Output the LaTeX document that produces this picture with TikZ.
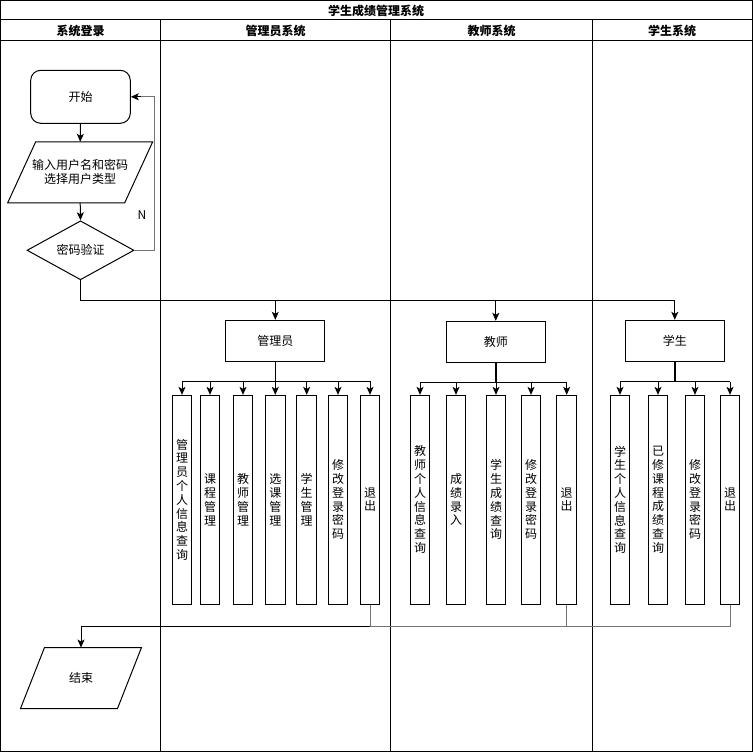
\documentclass[tikz,border=0pt]{standalone}
\usepackage{fontspec}
\setmainfont{Noto Sans CJK SC}
\usetikzlibrary{shapes.geometric,arrows.meta,calc}
\begin{document}
\begin{tikzpicture}[x=1pt,y=-1pt,line width=1pt,
  arr/.style={-{Stealth[length=8pt,width=7pt,inset=2pt]}},
  txt/.style={font=\fontsize{12}{14}\selectfont},
  hdr/.style={font=\bfseries\fontsize{12}{14}\selectfont},
  box/.style={draw,minimum width=99pt,minimum height=41pt,inner sep=0pt,txt},
  vbox/.style={draw,minimum width=19.5pt,minimum height=208.7pt,inner sep=0pt,align=center,font=\fontsize{12}{13.8}\selectfont},
  ghost/.style={inner sep=0pt,align=center,txt},
  exitline/.style={draw=black!55}
]
\useasboundingbox (0,0) rectangle (753,752);
% frame and lanes
\draw (0.5,0.5) rectangle (752,751.5);
\draw (0.5,20) -- (752,20);
\draw (0.5,40.5) -- (752,40.5);
\draw (160.5,20) -- (160.5,751.5);
\draw (390.5,20) -- (390.5,751.5);
\draw (592.5,20) -- (592.5,751.5);
\node[hdr] (title) at (376,10.5) {学生成绩管理系统};
\node[hdr] (h1) at (80.5,30.5) {系统登录};
\node[hdr] (h2) at (275.5,30.5) {管理员系统};
\node[hdr] (h3) at (491.5,30.5) {教师系统};
\node[hdr] (h4) at (672,30.5) {学生系统};

% login lane
\node[draw,rounded corners=10pt,minimum width=99.6pt,minimum height=53pt,inner sep=0pt,txt] (start) at (80.5,96.8) {开始};
\node[ghost,minimum width=116pt,minimum height=60pt] (inp) at (80.2,172.3) {输入用户名和密码\\选择用户类型};
\draw ($(inp.south west)+(-14,0)$) -- ($(inp.north west)+(14,0)$) -- ($(inp.north east)+(14,0)$) -- ($(inp.south east)+(-14,0)$) -- cycle;
\node[diamond,draw,minimum width=107pt,minimum height=59pt,inner sep=0pt,aspect=1.8,txt] (dia) at (80.5,250.3) {密码验证};
\node[txt] (nlab) at (142,215) {N};
\node[ghost,minimum width=96pt,minimum height=60pt] (endn) at (81,678) {结束};
\draw ($(endn.south west)+(-12,0)$) -- ($(endn.north west)+(12,0)$) -- ($(endn.north east)+(12,0)$) -- ($(endn.south east)+(-12,0)$) -- cycle;

\draw[arr] (start.south) -- (inp.north);
\draw[arr] (inp.south) -- (dia.north);
\coordinate (loopx) at (154,0);
\draw[exitline] (dia.east) -- (dia.east -| loopx) -- (start.east -| loopx) -- ($(start.east)+(8,0)$);
\draw[arr] ($(start.east)+(10,0)$) -- (start.east);

% role boxes
\node[box] (admin) at (275.3,340.8) {管理员};
\node[box] (teacher) at (495.8,341.8) {教师};
\node[box] (student) at (674.8,340.8) {学生};

\coordinate (bus) at (0,300.5);
\draw (dia.south) -- (dia.south |- bus) -- (student.north |- bus);
\draw[arr] (admin.north |- bus) -- (admin.north);
\draw[arr] (teacher.north |- bus) -- (teacher.north);
\draw[arr] (student.north |- bus) -- (student.north);

% admin children
\node[vbox] (a1) at (182,499.7) {管\\理\\员\\个\\人\\信\\息\\查\\询};
\node[vbox] (a2) at (210,499.7) {课\\程\\管\\理};
\node[vbox] (a3) at (243,499.7) {教\\师\\管\\理};
\node[vbox] (a4) at (275.3,499.7) {选\\课\\管\\理};
\node[vbox] (a5) at (306.7,499.7) {学\\生\\管\\理};
\node[vbox] (a6) at (338,499.7) {修\\改\\登\\录\\密\\码};
\node[vbox] (a7) at (370,499.7) {退\\出};
\coordinate (abr) at (0,381);
\draw (admin.south) -- (admin.south |- abr);
\draw (a1.north |- abr) -- (a7.north |- abr);
\foreach \n in {a1,a2,a3,a4,a5,a6,a7} \draw[arr] (\n.north |- abr) -- (\n.north);

% teacher children
\node[vbox] (t1) at (420,499.7) {教\\师\\个\\人\\信\\息\\查\\询};
\node[vbox] (t2) at (456,499.7) {成\\绩\\录\\入};
\node[vbox] (t3) at (496,499.7) {学\\生\\成\\绩\\查\\询};
\node[vbox] (t4) at (531,499.7) {修\\改\\登\\录\\密\\码};
\node[vbox] (t5) at (566.7,499.7) {退\\出};
\coordinate (tbr) at (0,382);
\draw[line width=1.6pt] (teacher.south) -- (teacher.south |- tbr);
\draw (t1.north |- tbr) -- (t5.north |- tbr);
\foreach \n in {t1,t2,t3,t4,t5} \draw[arr] (\n.north |- tbr) -- (\n.north);

% student children
\node[vbox] (s1) at (620,499.7) {学\\生\\个\\人\\信\\息\\查\\询};
\node[vbox] (s2) at (658,499.7) {已\\修\\课\\程\\成\\绩\\查\\询};
\node[vbox] (s3) at (695,499.7) {修\\改\\登\\录\\密\\码};
\node[vbox] (s4) at (730,499.7) {退\\出};
\coordinate (sbr) at (0,381.5);
\draw[line width=1.6pt] (student.south) -- (student.south |- sbr);
\draw (s1.north |- sbr) -- (s4.north |- sbr);
\foreach \n in {s1,s2,s3,s4} \draw[arr] (\n.north |- sbr) -- (\n.north);

% exits to end
\coordinate (mrg) at (0,626);
\draw[exitline] (s4.south) -- (s4.south |- mrg) -- (t5.south |- mrg);
\draw[exitline] (t5.south) -- (t5.south |- mrg) -- (a7.south |- mrg);
\draw[exitline] (a7.south) -- (a7.south |- mrg);
\draw[arr] (a7.south |- mrg) -- (endn.north |- mrg) -- (endn.north);
\end{tikzpicture}
\end{document}
